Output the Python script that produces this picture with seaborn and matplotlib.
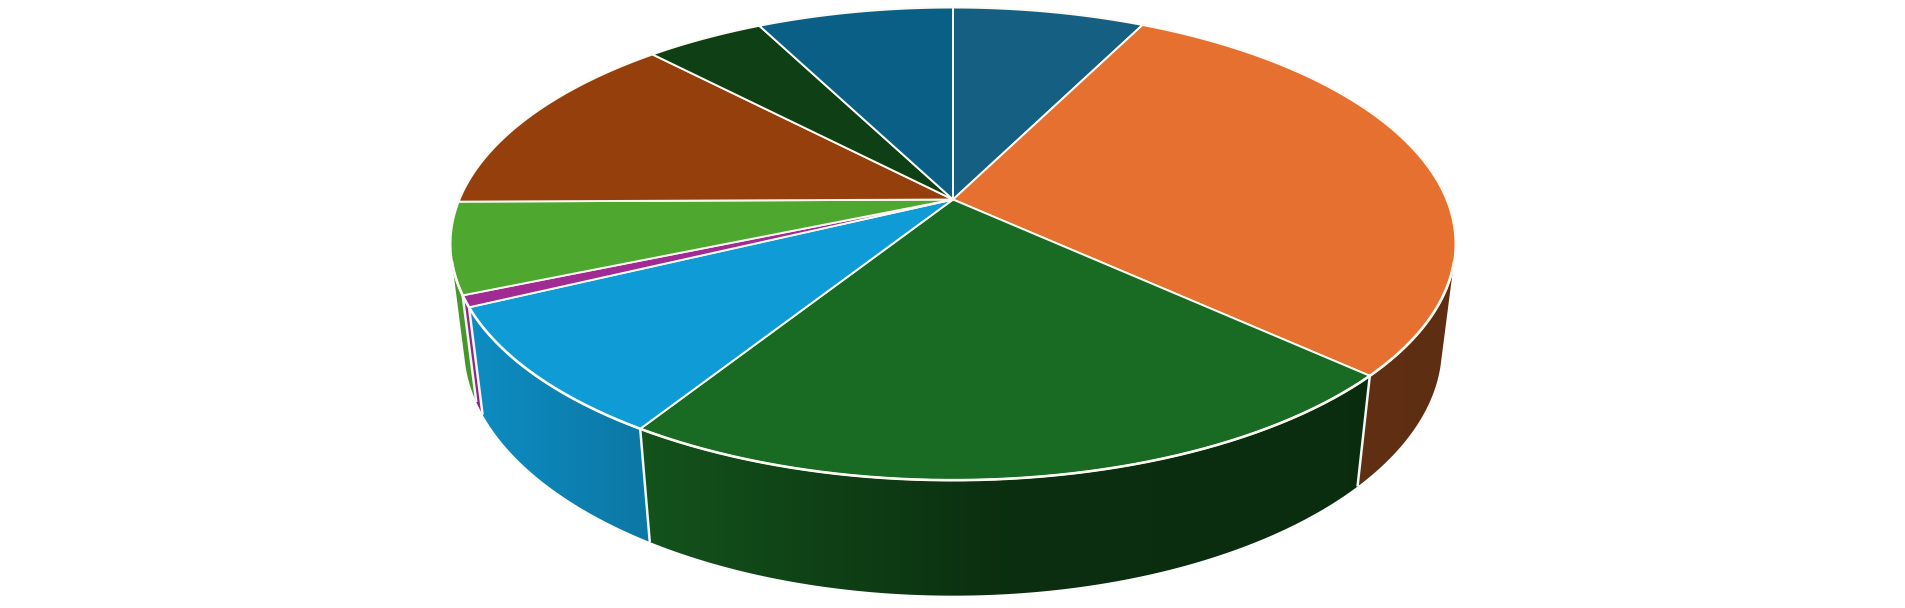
import numpy as np
import matplotlib
matplotlib.use("Agg")
import matplotlib.pyplot as plt
from matplotlib.patches import Polygon
import seaborn as sns

# shares, clockwise from 12 o'clock
shares = [7.4, 29.4, 22.15, 8.9, 0.78, 6.22, 13.0, 4.58, 7.57]
slice_colors = ["#156082", "#E67030", "#196B24", "#0F9BD6", "#A02B93",
                "#4EA72E", "#953F0C", "#0F3F14", "#0A5F86"]

# Perspective of the disc
CX, CY = 953, 199.5
A, B, C = 493.5, 228, 104.3
K, M = 0.1877, -0.0265
W, H = 1906, 608

sns.set_theme(style="white")
palette = sns.color_palette(slice_colors)


def project(theta, h=0.0):
    # theta clockwise from the back of the disc, h=0 top face, h=1 bottom
    u = np.sin(theta)
    v = -np.cos(theta)
    w = 1 - K * v - M * h
    return CX + A * u / w, CY + (B * v + C * h) / w


fig = plt.figure(figsize=(W / 100, H / 100), dpi=100)
ax = fig.add_axes([0, 0, 1, 1])

edges = np.cumsum([0] + shares) / sum(shares) * 2 * np.pi

# side walls get darker from left to right
px = np.arange(W)
wall_shade = np.interp(px, [450, 650, 1000, 1450], [0.92, 0.77, 0.44, 0.41])

# only the front of the wall shows, the rest is behind the top face
front_start, front_end = np.radians(105), np.radians(255)

for i in range(len(shares)):
    t0 = max(edges[i], front_start)
    t1 = min(edges[i + 1], front_end)
    if t1 <= t0:
        continue
    t = np.linspace(t0, t1, 200)
    xt, yt = project(t)
    xb, yb = project(t, 1)
    wall = Polygon(np.c_[np.r_[xt, xb[::-1]], np.r_[yt, yb[::-1]]], transform=ax.transData,
                   facecolor="none", edgecolor="none")
    ax.add_patch(wall)
    grad = np.outer(wall_shade, palette[i])[np.newaxis, :, :]
    im = ax.imshow(grad, extent=(0, W, H, 0), aspect="auto", zorder=2, interpolation="bilinear")
    im.set_clip_path(wall)

for e in edges:
    if front_start < e < front_end:
        x0, y0 = project(e)
        x1, y1 = project(e, 1)
        ax.plot([x0, x1], [y0, y1], color="#F2F8F6", lw=1.8, zorder=2.5, solid_capstyle="butt")

# Top face
for i in range(len(shares)):
    t = np.linspace(edges[i], edges[i + 1], 200)
    x, y = project(t)
    ax.fill(np.r_[CX, x], np.r_[CY, y], facecolor=palette[i], edgecolor="#FAFAF2",
            lw=1.4, joinstyle="round", zorder=4)

# front rim is a bit heavier than the spokes
t = np.linspace(front_start, front_end, 400)
ax.plot(*project(t), color="#FAFAF2", lw=1.9, zorder=5, solid_capstyle="round")

ax.set_xlim(0, W)
ax.set_ylim(H, 0)
ax.axis("off")

fig.savefig("out.png", dpi=100)
